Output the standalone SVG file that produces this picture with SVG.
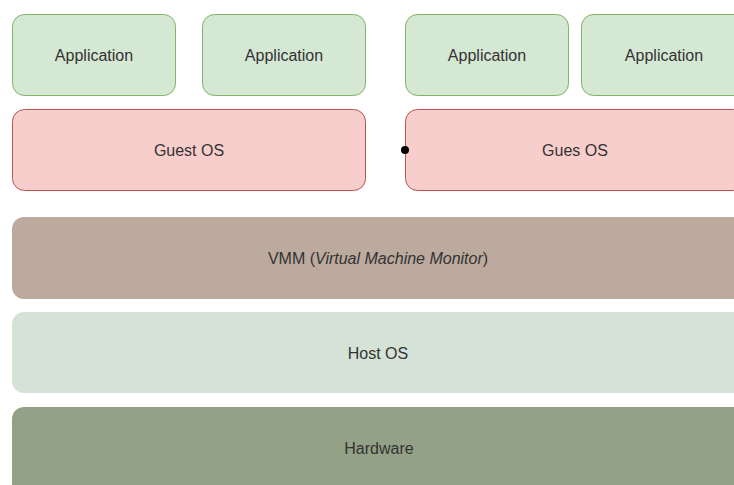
<svg xmlns="http://www.w3.org/2000/svg" width="734" height="485" viewBox="0 0 734 485">
<style>
text{font-family:"Liberation Sans",Arial,sans-serif;font-size:16px;fill:#333;text-anchor:middle;dominant-baseline:central}
.app{fill:#d5e8d4;stroke:#82b366;stroke-width:1}
.guest{fill:#f8cecc;stroke:#b85450;stroke-width:1}
.vmm{fill:#bcaa9e}
.host{fill:#d5e3d6}
.hw{fill:#93a186}
</style>
<rect width="734" height="485" fill="#fff"/>
<g id="app1"><rect class="app" x="12.5" y="14.5" width="163" height="81" rx="12"/><text x="94" y="55">Application</text></g>
<g id="app2"><rect class="app" x="202.5" y="14.5" width="163" height="81" rx="12"/><text x="284" y="55">Application</text></g>
<g id="app3"><rect class="app" x="405.5" y="14.5" width="163" height="81" rx="12"/><text x="487" y="55">Application</text></g>
<g id="app4"><rect class="app" x="581.5" y="14.5" width="165" height="81" rx="12"/><text x="664" y="55">Application</text></g>
<g id="guest1"><rect class="guest" x="12.5" y="109.5" width="353" height="81" rx="12"/><text x="189" y="150">Guest OS</text></g>
<g id="guest2"><rect class="guest" x="405.5" y="109.5" width="340" height="81" rx="12"/><text x="575" y="150">Gues OS</text></g>
<g id="vmm"><rect class="vmm" x="12" y="217" width="733" height="82" rx="12"/><text x="378" y="258">VMM (<tspan font-style="italic">Virtual Machine Monitor</tspan>)</text></g>
<g id="host"><rect class="host" x="12" y="312" width="733" height="81" rx="12"/><text x="378" y="353">Host OS</text></g>
<g id="hardware"><rect class="hw" x="12" y="407" width="733" height="90" rx="12"/><text x="379" y="448">Hardware</text></g>
<g id="connectors"><circle cx="405" cy="150" r="4" fill="#000"/></g>
</svg>
